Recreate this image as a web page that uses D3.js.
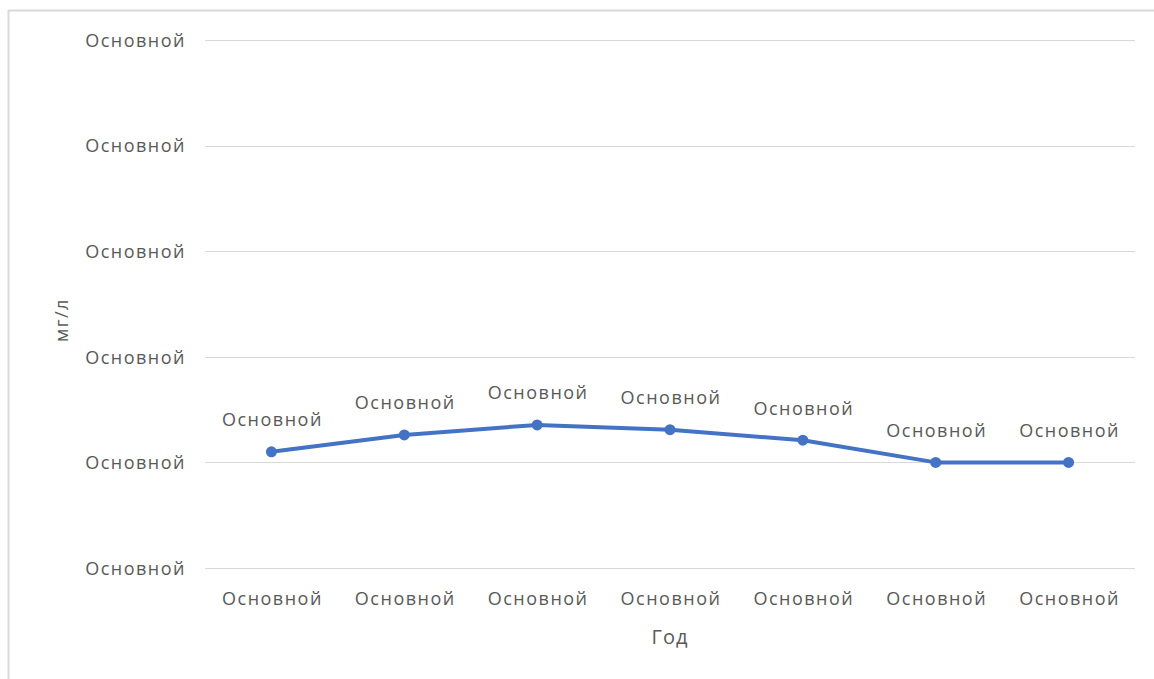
<!DOCTYPE html>
<html><head><meta charset="utf-8">
<script src="https://cdn.jsdelivr.net/npm/d3@7"></script>
<style>
html,body{margin:0;padding:0;background:#fff;}
svg{display:block;}
text{font-family:"Open Sans","Noto Sans",sans-serif;fill:#595959;}
</style></head>
<body>
<svg id="c" width="1154" height="679"></svg>
<script>
const categories = ["c1","c2","c3","c4","c5","c6","c7"];
const categoryLabels = ["Основной","Основной","Основной","Основной","Основной","Основной","Основной"];
const values = [1.1, 1.26, 1.355, 1.31, 1.21, 1.0, 1.0];
const pointLabels = ["Основной","Основной","Основной","Основной","Основной","Основной","Основной"];
const yTicks = [0,1,2,3,4,5];
const yTickLabels = ["Основной","Основной","Основной","Основной","Основной","Основной"];
const yTitle = "мг/л";
const xTitle = "Год";

(function(){
const svg = d3.select("#c");
const pL = 205, pR = 1135, pT = 40, pB = 568;
const FONT = '"Open Sans","Noto Sans",sans-serif';
const FS = 18, LS = "1.5px";

// border
svg.append("path").attr("d", "M8.5,679 V10.5 H1154").attr("fill","none").attr("stroke","#d9d9d9").attr("stroke-width",2);

const x = d3.scaleBand().domain(categories).range([pL,pR]);
const y = d3.scaleLinear().domain([0,5]).range([pB,pT]);

// gridlines
svg.append("g").selectAll("line").data(yTicks).join("line")
  .attr("x1",pL).attr("x2",pR)
  .attr("y1",d=>Math.round(y(d))+0.5).attr("y2",d=>Math.round(y(d))+0.5)
  .attr("stroke","#d9d9d9").attr("stroke-width",1);

// y axis labels
const yAxis = d3.axisLeft(y).tickValues(yTicks).tickSize(0).tickPadding(0)
  .tickFormat((d,i)=>yTickLabels[i]);
const gy = svg.append("g").attr("transform",`translate(186,0)`).call(yAxis);
gy.select(".domain").remove();
gy.selectAll("text").attr("font-size",FS).style("letter-spacing",LS).attr("fill","#595959").style("font-family",FONT).attr("dy","0.35em");

// x axis labels
const xAxis = d3.axisBottom(x).tickSize(0).tickPadding(0).tickFormat((d,i)=>categoryLabels[i]);
const gx = svg.append("g").attr("transform",`translate(1,${pB+31})`).call(xAxis);
gx.select(".domain").remove();
gx.selectAll("text").attr("font-size",FS).style("letter-spacing",LS).attr("fill","#595959").style("font-family",FONT).attr("dy","0.35em");

// line
const cx = i => x(categories[i]) + x.bandwidth()/2;
const line = d3.line().x((d,i)=>cx(i)).y(d=>y(d));
svg.append("path").datum(values).attr("d",line).attr("fill","none")
  .attr("stroke","#4472c4").attr("stroke-width",4).attr("stroke-linejoin","round");
svg.append("g").selectAll("circle").data(values).join("circle")
  .attr("cx",(d,i)=>cx(i)).attr("cy",d=>y(d)).attr("r",5.5)
  .attr("fill","#4472c4");

// point labels
svg.append("g").selectAll("text").data(values).join("text")
  .attr("x",(d,i)=>cx(i)+1).attr("y",d=>y(d)-32)
  .attr("text-anchor","middle").attr("dy","0.35em").attr("font-size",FS).style("letter-spacing",LS)
  .text((d,i)=>pointLabels[i]);

// titles
svg.append("text").attr("transform","translate(62,320) rotate(-90)").attr("text-anchor","middle")
  .attr("dy","0.35em").attr("font-size",18).style("letter-spacing","1.5px").text(yTitle);
svg.append("text").attr("x",670).attr("y",637).attr("text-anchor","middle")
  .attr("dy","0.35em").attr("font-size",20).style("letter-spacing","1px").text(xTitle);
})();
</script>
</body></html>
